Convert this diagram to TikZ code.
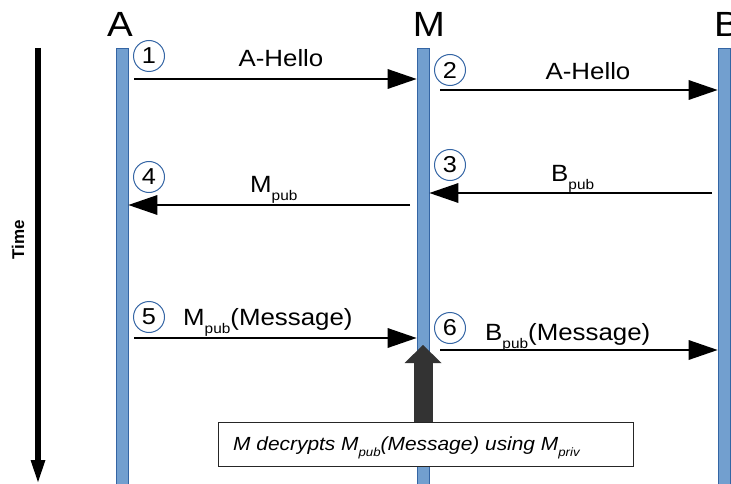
\documentclass[tikz,border=0pt]{standalone}
\usepackage{fontspec}
\setmainfont[FakeStretch=1.1]{Liberation Sans}
\newfontfamily\plainsans{Liberation Sans}
\usetikzlibrary{arrows.meta,calc}
\definecolor{barfill}{HTML}{729FCF}
\definecolor{barline}{HTML}{3465A4}
\definecolor{bigarrowcol}{HTML}{333333}
\newcommand\lowsub[1]{\raisebox{-8pt}{\fontsize{14}{14}\selectfont #1}}
\newcommand\boxsub[1]{\raisebox{-6pt}{\fontsize{12}{12}\selectfont\itshape #1}}
\begin{document}
\begin{tikzpicture}[x=1pt,y=-1pt,
 lifeline/.style={draw=barline, fill=barfill, line width=0.8pt, minimum width=12pt, minimum height=436pt, anchor=north, inner sep=0},
 msg/.style={line width=2pt, -{Triangle[length=29pt,width=20pt,line width=0pt]}},
 num/.style={circle, draw=barline, line width=1pt, minimum size=31pt, inner sep=0, font=\fontsize{23}{23}\selectfont},
 lbl/.style={inner sep=0, font=\fontsize{23.5}{24}\selectfont},
 actor/.style={inner sep=0, font=\fontsize{35}{35}\selectfont, anchor=base}]
\useasboundingbox (0,0) rectangle (731,484);
% lifelines
\node[lifeline] (barA) at (122,48) {};
\node[lifeline] (barM) at (423,48) {};
\node[lifeline] (barB) at (724,48) {};
% actors
\node[actor] (A) at (120,37) {A};
\node[actor] (M) at (429,37) {M};
\node[actor, anchor=base west] (B) at (714,37) {B};
% messages
\coordinate (s1) at (134,79); \draw[msg] (s1) -- (s1 -| barM.west);
\coordinate (s2) at (440,90); \draw[msg] (s2) -- (s2 -| barB.west);
\coordinate (s3) at (712,193); \draw[msg] (s3) -- (s3 -| barM.east);
\coordinate (s4) at (410,205); \draw[msg] (s4) -- (s4 -| barA.east);
\coordinate (s5) at (134,338); \draw[msg] (s5) -- (s5 -| barM.west);
\coordinate (s6) at (440,350); \draw[msg] (s6) -- (s6 -| barB.west);
% labels
\node[lbl, anchor=base] (l1) at (281,67) {A-Hello};
\node[lbl, anchor=base] (l2) at (588,80) {A-Hello};
\node[lbl, anchor=base west] (l3) at (551,182) {B\lowsub{pub}};
\node[lbl, anchor=base west] (l4) at (250,193) {M\lowsub{pub}};
\node[lbl, anchor=base west] (l5) at (183,325) {M\lowsub{pub}(Message)};
\node[lbl, anchor=base west] (l6) at (485,340) {B\lowsub{pub}(Message)};
% numbers
\node[num] (n1) at (149,56) {1};
\node[num] (n2) at (450,70) {2};
\node[num] (n3) at (450,165) {3};
\node[num] (n4) at (149,177) {4};
\node[num] (n5) at (149,317) {5};
\node[num] (n6) at (450,328) {6};
% box
\node[draw=black!85, fill=white, line width=0.8pt, minimum width=415pt, minimum height=44pt, anchor=north west, inner sep=0] (box) at (218,422) {};
\node[inner sep=0, anchor=base west, font=\fontsize{19}{20}\selectfont\itshape] (boxtext) at (233,450) {M decrypts M\boxsub{pub}(Message) using M\boxsub{priv}};
% big arrow
\coordinate (bigtip) at (423,345);
\draw[color=bigarrowcol, line width=19pt, -{Triangle[length=18pt,width=37pt,line width=0pt]}] (box.north -| bigtip) -- (bigtip);
% time
\coordinate (t0) at (38,48); \coordinate (t1) at (38,482);
\draw[line width=6.5pt, -{Triangle[length=22pt,width=15pt,line width=0pt]}] (t0) -- (t1);
\node[rotate=90, inner sep=0, font=\plainsans\bfseries\fontsize{17}{17}\selectfont] (time) at (18,240) {Time};
\end{tikzpicture}
\end{document}
